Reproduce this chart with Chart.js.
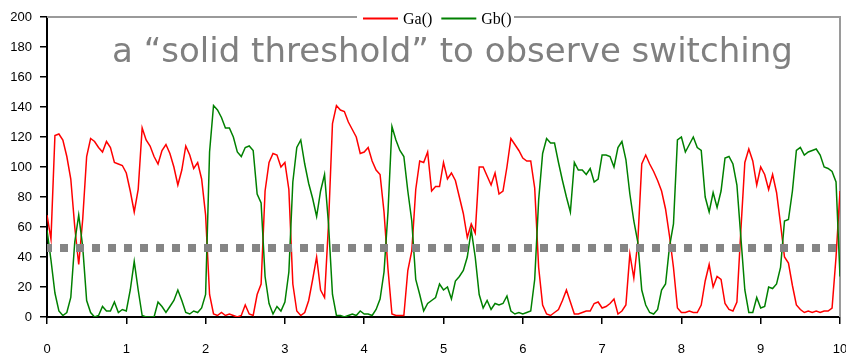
<!DOCTYPE html>
<html>
<head>
<meta charset="utf-8">
<script src="https://cdn.jsdelivr.net/npm/chart.js@4.4.1/dist/chart.umd.min.js"></script>
<style>
  html, body { margin: 0; padding: 0; background: #fff; }
</style>
</head>
<body>
<canvas id="chart" width="846" height="353"></canvas>
<script>
// sample times (x axis)
const times = [
  0, 0.05, 0.1, 0.15, 0.2, 0.25, 0.3, 0.35, 0.4, 0.45, 0.5, 0.55, 0.6, 0.65, 0.7, 0.75, 0.8, 0.85, 0.9, 0.95,
  1, 1.05, 1.1, 1.15, 1.2, 1.25, 1.3, 1.35, 1.4, 1.45, 1.5, 1.55, 1.6, 1.65, 1.7, 1.75, 1.8, 1.85, 1.9, 1.95,
  2, 2.05, 2.1, 2.15, 2.2, 2.25, 2.3, 2.35, 2.4, 2.45, 2.5, 2.55, 2.6, 2.65, 2.7, 2.75, 2.8, 2.85, 2.9, 2.95,
  3, 3.05, 3.1, 3.15, 3.2, 3.25, 3.3, 3.35, 3.4, 3.45, 3.5, 3.55, 3.6, 3.65, 3.7, 3.75, 3.8, 3.85, 3.9, 3.95,
  4, 4.05, 4.1, 4.15, 4.2, 4.25, 4.3, 4.35, 4.4, 4.45, 4.5, 4.55, 4.6, 4.65, 4.7, 4.75, 4.8, 4.85, 4.9, 4.95,
  5, 5.05, 5.1, 5.15, 5.2, 5.25, 5.3, 5.35, 5.4, 5.45, 5.5, 5.55, 5.6, 5.65, 5.7, 5.75, 5.8, 5.85, 5.9, 5.95,
  6, 6.05, 6.1, 6.15, 6.2, 6.25, 6.3, 6.35, 6.4, 6.45, 6.5, 6.55, 6.6, 6.65, 6.7, 6.75, 6.8, 6.85, 6.9, 6.95,
  7, 7.05, 7.1, 7.15, 7.2, 7.25, 7.3, 7.35, 7.4, 7.45, 7.5, 7.55, 7.6, 7.65, 7.7, 7.75, 7.8, 7.85, 7.9, 7.95,
  8, 8.05, 8.1, 8.15, 8.2, 8.25, 8.3, 8.35, 8.4, 8.45, 8.5, 8.55, 8.6, 8.65, 8.7, 8.75, 8.8, 8.85, 8.9, 8.95,
  9, 9.05, 9.1, 9.15, 9.2, 9.25, 9.3, 9.35, 9.4, 9.45, 9.5, 9.55, 9.6, 9.65, 9.7, 9.75, 9.8, 9.85, 9.9, 9.95,
  10
];

// Ga() - red
const gaValues = [
  68, 52, 121, 122, 118, 107, 92, 60, 35, 65, 107, 119, 117, 113, 110, 117, 113, 103, 102, 101,
  96, 84, 70, 85, 126, 118, 114, 107, 102, 111, 115, 109, 100, 88, 98, 114, 108, 99, 103, 92,
  68, 15, 2, 1, 3, 1, 2, 1, 0, 1, 8, 2, 1, 15, 22, 84, 103, 109, 108, 100,
  103, 85, 22, 4, 1, 3, 11, 25, 40, 18, 13, 62, 129, 141, 138, 137, 130, 125, 120, 109,
  110, 113, 104, 98, 95, 70, 32, 2, 1, 1, 1, 31, 44, 85, 104, 103, 110, 84, 87, 87,
  103, 92, 96, 91, 80, 69, 53, 62, 56, 100, 100, 94, 88, 96, 82, 84, 100, 119, 115, 111,
  106, 104, 104, 86, 33, 8, 2, 1, 3, 5, 11, 18, 10, 2, 2, 3, 4, 4, 9, 10,
  6, 7, 9, 12, 2, 4, 8, 42, 26, 50, 102, 108, 102, 97, 91, 84, 72, 54, 33, 6,
  3, 3, 4, 3, 3, 8, 24, 35, 20, 27, 25, 9, 5, 4, 10, 58, 103, 112, 104, 88,
  100, 95, 85, 95, 83, 62, 40, 36, 21, 8, 5, 3, 4, 3, 4, 3, 4, 4, 6, 40,
  84
];

// Gb() - green
const gbValues = [
  58, 38, 16, 4, 1, 3, 13, 50, 68, 47, 11, 3, 0, 1, 7, 4, 4, 10, 3, 5,
  4, 18, 37, 18, 1, 0, 0, 0, 10, 7, 3, 7, 11, 18, 11, 3, 2, 4, 3, 6,
  15, 110, 141, 138, 133, 126, 126, 120, 110, 107, 113, 114, 111, 82, 76, 27, 9, 2, 7, 4,
  10, 30, 90, 113, 118, 102, 89, 79, 67, 84, 95, 62, 15, 1, 1, 0, 1, 2, 1, 4,
  2, 2, 1, 5, 12, 30, 70, 127, 118, 111, 107, 84, 64, 25, 15, 4, 9, 11, 13, 22,
  18, 20, 12, 24, 27, 31, 40, 58, 40, 15, 6, 11, 5, 9, 8, 9, 14, 4, 2, 3,
  2, 3, 4, 25, 78, 109, 119, 116, 116, 103, 91, 80, 70, 103, 98, 98, 95, 99, 90, 92,
  108, 108, 107, 100, 113, 117, 105, 82, 64, 50, 18, 8, 3, 2, 5, 18, 22, 47, 62, 118,
  120, 110, 115, 120, 113, 111, 80, 70, 83, 73, 84, 106, 107, 102, 88, 53, 18, 3, 3, 13,
  6, 7, 20, 19, 22, 33, 64, 65, 84, 111, 113, 108, 110, 111, 112, 108, 100, 99, 97, 90,
  27
];

// the dotted "solid threshold"
const thresholdTimes = [0, 10];
const thresholdValues = [46, 46];

const seriesNames = ['Ga()', 'Gb()'];
const headline = 'a \u201csolid threshold\u201d to observe switching';

function toPoints(xs, ys) {
    return xs.map((x, i) => ({ x: x, y: ys[i] }));
}

// top/right grey frame, legend sitting on the top edge, and the headline
const notes = {
    id: 'notes',
    beforeDatasetsDraw(chart) {
        const { ctx, chartArea: a } = chart;
        ctx.save();
        ctx.strokeStyle = '#9a9a9a';
        ctx.lineWidth = 2;
        ctx.beginPath();
        ctx.moveTo(a.left, a.top);
        ctx.lineTo(a.right, a.top);
        ctx.lineTo(a.right, a.bottom);
        ctx.stroke();
        ctx.restore();
    },
    afterDraw(chart) {
        const { ctx } = chart;
        ctx.save();

        // legend
        ctx.fillStyle = '#fff';
        ctx.fillRect(357, 8, 157, 20);
        ctx.font = '16px "Liberation Serif"';
        ctx.textBaseline = 'middle';
        let x = 363;
        seriesNames.forEach(name => {
            const ds = chart.data.datasets.find(d => d.label === name);
            ctx.strokeStyle = ds.borderColor;
            ctx.lineWidth = 2;
            ctx.beginPath();
            ctx.moveTo(x, 18.5);
            ctx.lineTo(x + 35, 18.5);
            ctx.stroke();
            ctx.fillStyle = '#000';
            ctx.fillText(name, x + 40, 19.5);
            x += 40 + ctx.measureText(name).width + 9;
        });

        // headline
        ctx.font = '30px "DejaVu Sans"';
        const w = ctx.measureText(headline).width;
        const size = 30 * 681 / w;
        ctx.font = size.toFixed(2) + 'px "DejaVu Sans"';
        ctx.fillStyle = '#808080';
        ctx.textBaseline = 'alphabetic';
        ctx.fillText(headline, 112, 62);
        ctx.restore();
    }
};

new Chart(document.getElementById('chart'), {
    type: 'line',
    data: {
        datasets: [{
            label: 'threshold',
            data: toPoints(thresholdTimes, thresholdValues),
            borderColor: '#858585',
            borderWidth: 8,
            borderDash: [8, 8],
            borderDashOffset: 3,
            borderCapStyle: 'butt',
            pointRadius: 0,
            order: 0
        }, {
            label: seriesNames[1],
            data: toPoints(times, gbValues),
            borderColor: '#008000',
            borderWidth: 1.5,
            pointRadius: 0,
            tension: 0,
            order: 1
        }, {
            label: seriesNames[0],
            data: toPoints(times, gaValues),
            borderColor: '#ff0000',
            borderWidth: 1.5,
            pointRadius: 0,
            tension: 0,
            order: 2
        }]
    },
    options: {
        responsive: false,
        devicePixelRatio: 1,
        animation: false,
        layout: { padding: { top: 17, right: 6, left: 0, bottom: 0 } },
        plugins: {
            legend: { display: false },
            tooltip: { enabled: false }
        },
        scales: {
            x: {
                type: 'linear',
                min: 0,
                max: 10,
                afterFit(scale) {
                    scale.height = 36;
                    scale.paddingLeft = 0;
                    scale.paddingRight = 0;
                },
                ticks: {
                    stepSize: 1,
                    padding: 18,
                    color: '#000',
                    font: { family: '"Liberation Sans"', size: 13 }
                },
                grid: { drawOnChartArea: false, drawTicks: true, tickLength: 7, color: '#000', lineWidth: 1.5 },
                border: { display: true, color: '#000', width: 2 }
            },
            y: {
                min: 0,
                max: 200,
                afterFit(scale) {
                    scale.width = 47;
                },
                ticks: {
                    stepSize: 20,
                    padding: 8,
                    color: '#000',
                    font: { family: '"Liberation Sans"', size: 13 }
                },
                grid: { drawOnChartArea: false, drawTicks: true, tickLength: 7, color: '#000', lineWidth: 1.5 },
                border: { display: true, color: '#000', width: 2 }
            }
        }
    },
    plugins: [notes]
});
</script>
</body>
</html>
